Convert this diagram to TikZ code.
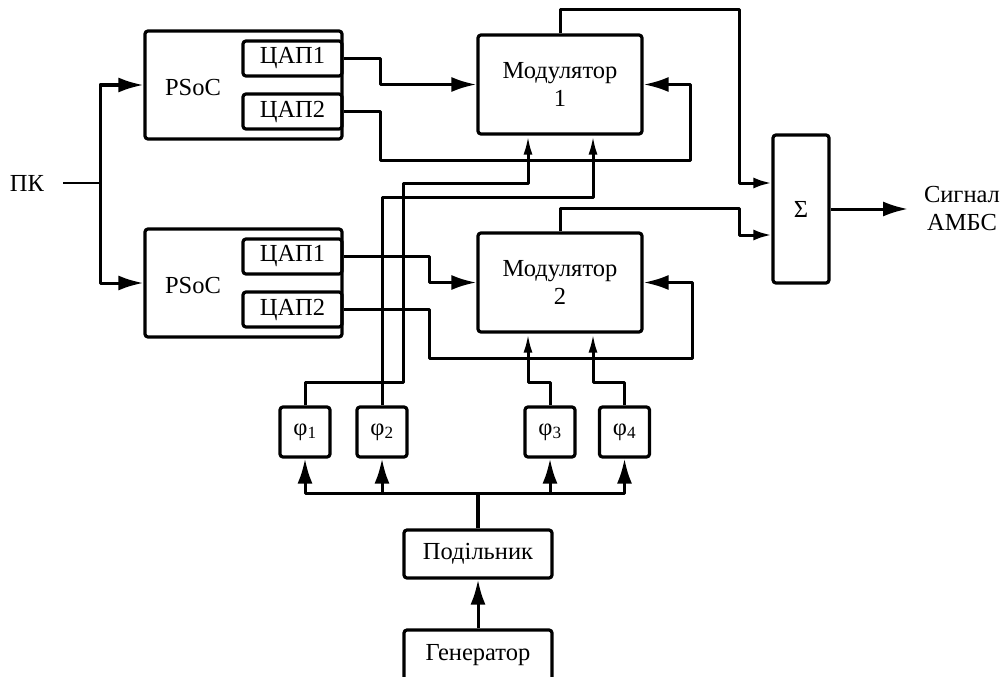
\documentclass[tikz,border=0pt]{standalone}
\usepackage{fontspec}
\setmainfont{Liberation Serif}
\usetikzlibrary{arrows.meta}

\begin{document}
\begin{tikzpicture}[x=1pt,y=-1pt,
    box/.style={draw, line width=3.2pt, rounded corners=3pt, inner sep=0pt, align=center,
                font=\fontsize{24.5}{28}\selectfont},
    txt/.style={inner sep=0pt, align=center, font=\fontsize{24.5}{28}\selectfont},
    wire/.style={line width=3pt, line join=round},
    arrbig/.style={-{Latex[length=25pt,width=15pt]}},
    arrsum/.style={-{Latex[length=18pt,width=11pt]}},
    arrmod/.style={-{Latex[length=19pt,width=9pt]}}]
    \useasboundingbox (0,0) rectangle (1004,677);

    \node[txt, inner xsep=19pt] (pk) at (27,183) {ПК};
    \coordinate (split) at (100,183);
    \coordinate (bus) at (478,493);
    \coordinate (sigout) at (908,209);

    \node[box, minimum width=197pt, minimum height=108pt] (psoc1) at (243.5,85) {};
    \node[box, minimum width=99pt, minimum height=35pt]   (dac11) at (292.5,58.5) {ЦАП1};
    \node[box, minimum width=99pt, minimum height=35pt]   (dac12) at (292.5,111.5) {ЦАП2};
    \node[txt] (psoc1lbl) at (193,88) {PSoC};
    \node[box, minimum width=197pt, minimum height=108pt] (psoc2) at (243.5,283) {};
    \node[box, minimum width=99pt, minimum height=35pt]   (dac21) at (292.5,256.5) {ЦАП1};
    \node[box, minimum width=99pt, minimum height=35pt]   (dac22) at (292.5,309.5) {ЦАП2};
    \node[txt] (psoc2lbl) at (193,286) {PSoC};

    \node[box, minimum width=164pt, minimum height=99pt] (mod1) at (560,84.5)  {Модулятор\\1};
    \node[box, minimum width=164pt, minimum height=99pt] (mod2) at (560,282.5) {Модулятор\\2};
    \node[box, minimum width=56pt, minimum height=148pt] (sum)  at (801,209)   {Σ};
    \node[txt] (outlbl) at (962,209) {Сигнал\\АМБС};

    \node[box, minimum width=50pt, minimum height=50pt] (ph1) at (305,432)   {φ\textsubscript{1}};
    \node[box, minimum width=50pt, minimum height=50pt] (ph2) at (382,432)   {φ\textsubscript{2}};
    \node[box, minimum width=50pt, minimum height=50pt] (ph3) at (550,432)   {φ\textsubscript{3}};
    \node[box, minimum width=50pt, minimum height=50pt] (ph4) at (624.5,432) {φ\textsubscript{4}};
    \node[box, minimum width=148pt, minimum height=48pt] (div) at (478,554) {Подільник};
    \node[box, minimum width=148pt, minimum height=50pt] (gen) at (478,655) {Генератор};

    \draw[wire, line width=2.2pt] (pk.east) -- (split);
    \draw[wire, arrbig] (split) |- (psoc1.west);
    \draw[wire, arrbig] (split) |- (psoc2.west);

    \draw[wire, arrbig] (dac11.east) -- ++(37,0) |- (mod1.west);
    \draw[wire, arrbig] (dac12.east) -- ++(37,0) |- (690,160) |- (mod1.east);
    \draw[wire, arrbig] (dac21.east) -- ++(86,0) |- (mod2.west);
    \draw[wire, arrbig] (dac22.east) -- ++(86,0) |- (692,358) |- (mod2.east);

    \draw[wire, arrsum] (mod1.north) |- (739,10) |- ([yshift=26pt]sum.west);
    \draw[wire, arrsum] (mod2.north) |- (739,208) |- ([yshift=-26pt]sum.west);
    \draw[wire, arrbig] (sum.east) -- (sigout);

    \draw[wire, arrmod] (ph1.north) |- (403,382) |- (528,183) -- ([xshift=-32pt]mod1.south);
    \draw[wire, arrmod] (ph2.north) |- (593,197) -- ([xshift=33pt]mod1.south);
    \draw[wire, arrmod] (ph3.north) |- (528,382) -- ([xshift=-32pt]mod2.south);
    \draw[wire, arrmod] (ph4.north) |- (593,382) -- ([xshift=33pt]mod2.south);

    \draw[wire, line width=3.6pt] (div.north) -- (bus);
    \foreach \p in {ph1,ph2,ph3,ph4}
        \draw[wire, arrbig] (bus) -| (\p.south);
    \draw[wire, arrbig] (gen.north) -- (div.south);
\end{tikzpicture}
\end{document}
